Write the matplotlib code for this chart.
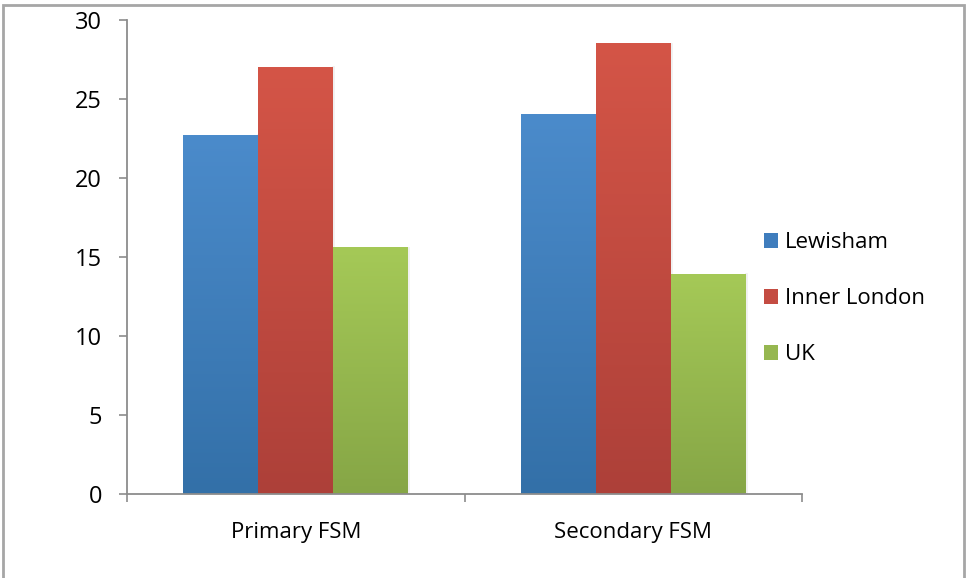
import numpy as np
import matplotlib
matplotlib.use("Agg")
from matplotlib import pyplot as plt
from matplotlib.patches import Patch
import matplotlib.colors as mcolors

plt.rcParams['font.family'] = ['Open Sans', 'DejaVu Sans']

categories = ["Primary FSM", "Secondary FSM"]
series = ["Lewisham", "Inner London", "UK"]
lewisham = [22.7, 24.0]
inner_london = [27.0, 28.5]
uk = [15.6, 13.9]
values = [lewisham, inner_london, uk]

# top / bottom colours of the Excel style gradient
top_colors = ["#4b8bcb", "#d45547", "#a5c957"]
bottom_colors = ["#3370a8", "#ad4039", "#86a646"]
legend_colors = ["#3f7dbd", "#c44c42", "#96b750"]

fig = plt.figure(figsize=(9.66, 5.78), dpi=100)
ax = fig.add_axes([127 / 966, 1 - 494 / 578, 675 / 966, 474 / 578])

width = 0.2222
x = np.arange(len(categories))
for i, vals in enumerate(values):
    offs = (i - 1) * width
    bars = ax.bar(x + offs, vals, width, color="none", edgecolor="none", zorder=2)
    cmap = mcolors.LinearSegmentedColormap.from_list(
        series[i], [bottom_colors[i], top_colors[i]])
    for b in bars:
        x0, y0 = b.get_x(), b.get_y()
        w, h = b.get_width(), b.get_height()
        grad = np.linspace(0, 1, 256).reshape(-1, 1)
        ax.imshow(grad, extent=(x0, x0 + w, y0, y0 + h), origin="lower",
                  cmap=cmap, aspect="auto", zorder=2)
        ax.plot([x0 + w, x0 + w], [0, h], color="#000000", alpha=0.06, lw=2,
                zorder=1.9)

ax.set_xlim(-0.5, 1.5)
ax.set_ylim(0, 30)
ax.set_yticks(np.arange(0, 31, 5))
ax.set_xticks(x)
ax.set_xticklabels(categories)
ax.xaxis.set_minor_locator(matplotlib.ticker.FixedLocator([-0.5, 0.5, 1.5]))
ax.tick_params(axis="x", which="major", length=0, pad=20, labelsize=16)
ax.tick_params(axis="x", which="minor", length=6, width=1.2, color="#8c8c8c")
ax.tick_params(axis="y", length=6, width=1.2, color="#8c8c8c", labelsize=17, pad=12)
for s in ["top", "right"]:
    ax.spines[s].set_visible(False)
for s in ["left", "bottom"]:
    ax.spines[s].set_color("#8c8c8c")
    ax.spines[s].set_linewidth(1.3)

handles = [Patch(facecolor=c, edgecolor="none") for c in legend_colors]
fig.legend(handles, series, loc="upper left", bbox_to_anchor=(744 / 966, 1 - 212 / 578),
           frameon=False, fontsize=16, handlelength=0.65, handleheight=0.65,
           handletextpad=0.3, labelspacing=1.58)

# outer chart border
fig.add_artist(plt.Rectangle((3 / 966, -0.1), 961 / 966, 1.1 - 5 / 578,
                             transform=fig.transFigure, fill=False,
                             edgecolor="#a6a6a6", lw=2))

fig.savefig("out.png", dpi=100)
